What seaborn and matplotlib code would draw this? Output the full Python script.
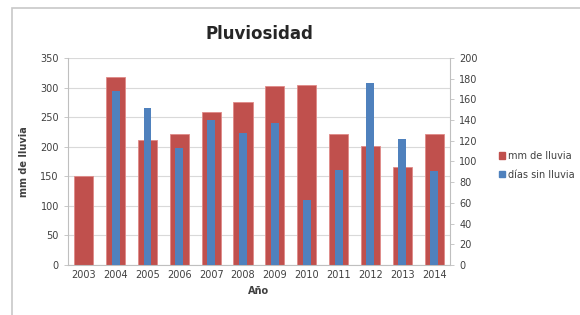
import matplotlib.pyplot as plt
import matplotlib.patches as mpatches
import numpy as np
import pandas as pd
import seaborn as sns

years = ['2003', '2004', '2005', '2006', '2007', '2008', '2009', '2010', '2011', '2012', '2013', '2014']
mm_lluvia = [150, 318, 211, 221, 259, 276, 303, 304, 222, 201, 165, 222]
dias_sin_lluvia = [0, 168, 152, 113, 140, 127, 137, 63, 92, 176, 122, 91]

RED = '#C0504D'
BLUE = '#4F81BD'
TXT = '#404040'

df = pd.DataFrame({'year': years, 'mm': mm_lluvia, 'dias': dias_sin_lluvia})

sns.set_style('white')
plt.rcParams['font.family'] = ['DejaVu Sans']

fig = plt.figure(figsize=(5.8, 3.15), dpi=100)
ax = fig.add_axes([0.117, 0.159, 0.659, 0.657])

# outer chart frame
fig.patches.append(mpatches.Rectangle((12 / 580, -0.05), 1.2, 1.05 - 8 / 315, transform=fig.transFigure,
                                      fill=False, edgecolor='#c8c8c8', linewidth=1.2))

sns.barplot(data=df, x='year', y='mm', color=RED, width=0.6, saturation=1,
            edgecolor='#e08a88', linewidth=0.6, ax=ax, zorder=2)
ax.set_ylim(0, 350)
ax.set_yticks(np.arange(0, 351, 50))
ax.yaxis.grid(True, color='#d9d9d9', linewidth=0.8)
ax.set_axisbelow(True)

ax2 = ax.twinx()
sns.barplot(data=df, x='year', y='dias', color=BLUE, width=0.25, saturation=1,
            linewidth=0, ax=ax2, zorder=3)
ax2.set_ylim(0, 200)
ax2.set_yticks(np.arange(0, 201, 20))
ax.set_xlim(-0.5, len(years) - 0.5)
ax2.set_xlim(-0.5, len(years) - 0.5)

for a in (ax, ax2):
    for s in a.spines.values():
        s.set_visible(False)
    a.tick_params(labelsize=7, colors=TXT, length=3, width=0.6)
    a.tick_params(axis='y', colors='#bfbfbf', labelcolor=TXT)
ax.spines['left'].set_visible(True)
ax.spines['left'].set_color('#bfbfbf')
ax.spines['bottom'].set_visible(True)
ax.spines['bottom'].set_color('#bfbfbf')
ax2.spines['right'].set_visible(True)
ax2.spines['right'].set_color('#bfbfbf')
ax.tick_params(axis='x', length=0, pad=4)

ax.set_ylabel('mm de lluvia', fontsize=7, fontweight='bold', color=TXT, labelpad=8)
ax.set_xlabel('Año', fontsize=7, fontweight='bold', color=TXT, labelpad=4)
ax2.set_ylabel('')

ax.set_title('Pluviosidad', fontsize=12, fontweight='bold', color='#262626', pad=14)

handles = [mpatches.Patch(color=RED, label='mm de lluvia'),
           mpatches.Patch(color=BLUE, label='días sin lluvia')]
fig.legend(handles=handles, loc='center left', bbox_to_anchor=(0.845, 0.475), frameon=False,
           fontsize=7, handlelength=0.6, handleheight=0.6, handletextpad=0.3, labelspacing=0.9,
           labelcolor=TXT)

fig.savefig('out.png', dpi=100)
